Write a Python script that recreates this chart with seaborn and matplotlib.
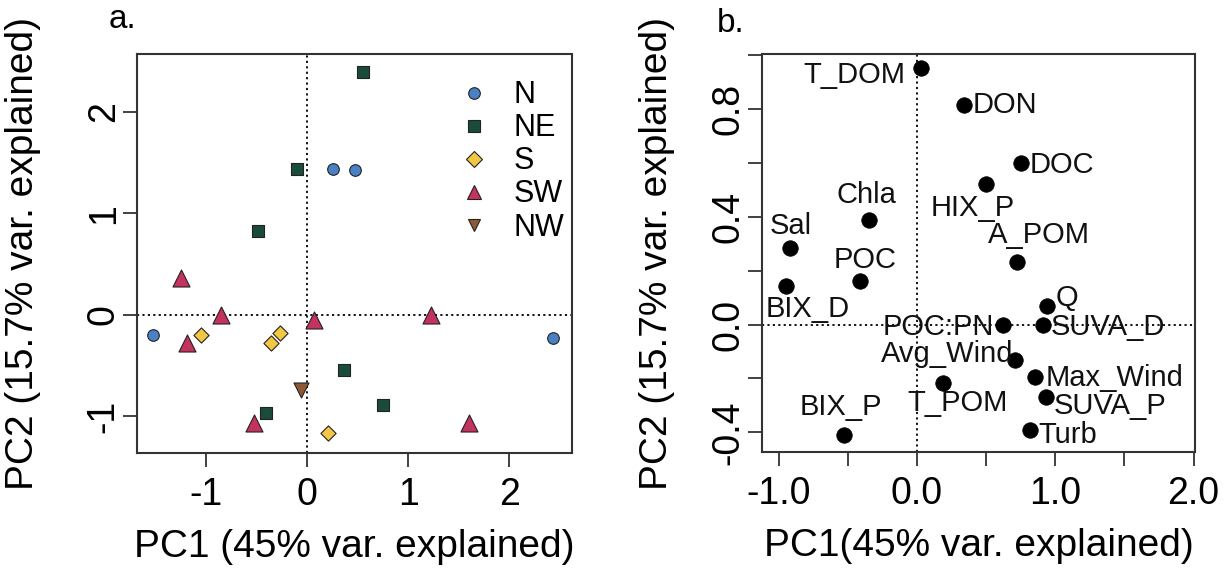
import numpy as np
import pandas as pd
import matplotlib
matplotlib.use("Agg")
import matplotlib.pyplot as plt
from matplotlib.lines import Line2D
import seaborn as sns

# ---------------- data: panel a (site scores) ----------------
groups = ["N", "NE", "S", "SW", "NW"]
N_pc1 = [0.26, 0.47, -1.52, 2.43]
N_pc2 = [1.44, 1.43, -0.20, -0.23]
NE_pc1 = [0.55, -0.10, -0.48, 0.37, 0.75, -0.40]
NE_pc2 = [2.39, 1.44, 0.83, -0.54, -0.89, -0.97]
S_pc1 = [-1.05, -0.27, -0.36, 0.21]
S_pc2 = [-0.20, -0.18, -0.28, -1.16]
SW_pc1 = [-1.25, -0.85, -1.19, 0.07, 1.23, -0.52, 1.60]
SW_pc2 = [0.36, 0.00, -0.28, -0.05, 0.00, -1.06, -1.06]
NW_pc1 = [-0.06]
NW_pc2 = [-0.74]

# ---------------- data: panel b (variable loadings) ----------------
variables = ["T_DOM", "DON", "DOC", "HIX_P", "A_POM", "Chla", "Sal", "POC",
             "BIX_D", "Q", "POC:PN", "SUVA_D", "Avg_Wind", "Max_Wind",
             "T_POM", "SUVA_P", "Turb", "BIX_P"]
load_pc1 = [0.03, 0.34, 0.75, 0.50, 0.72, -0.35, -0.92, -0.41,
            -0.95, 0.94, 0.62, 0.91, 0.71, 0.85, 0.19, 0.93, 0.82, -0.53]
load_pc2 = [0.954, 0.817, 0.60, 0.523, 0.233, 0.39, 0.284, 0.163,
            0.142, 0.07, 0.0, 0.0, -0.13, -0.196, -0.217, -0.269, -0.39, -0.41]

# label placement (offset in pixels, horizontal alignment)
label_style = {
    "T_DOM": (-16, -7, "right"), "DON": (9, 0, "left"), "DOC": (9, -2, "left"),
    "HIX_P": (-13, -24, "center"), "A_POM": (22, 27, "center"),
    "Chla": (-2, 25, "center"), "Sal": (1, 22, "center"), "POC": (5, 21, "center"),
    "BIX_D": (22, -23, "center"), "Q": (9, 8, "left"), "POC:PN": (-9, -2, "right"),
    "SUVA_D": (8, -2, "left"), "Avg_Wind": (-2, 6, "right"),
    "Max_Wind": (11, -1, "left"), "T_POM": (14, -20, "center"),
    "SUVA_P": (8, -9, "left"), "Turb": (8, -5, "left"), "BIX_P": (-3, 28, "center"),
}

sns.set_style("white")
plt.rcParams["font.family"] = ["Liberation Sans", "DejaVu Sans"]
plt.rcParams["axes.unicode_minus"] = False
for k in ("text.color", "axes.labelcolor", "xtick.color", "ytick.color"):
    plt.rcParams[k] = "black"

colors = {"N": "#4a80c4", "NE": "#1b4b3a", "S": "#f2c744", "SW": "#c4325e", "NW": "#8e5a33"}
markers = {"N": "o", "NE": "s", "S": "D", "SW": "^", "NW": "v"}
sizes = {"N": 70, "NE": 64, "S": 60, "SW": 150, "NW": 117}

pc1s = [N_pc1, NE_pc1, S_pc1, SW_pc1, NW_pc1]
pc2s = [N_pc2, NE_pc2, S_pc2, SW_pc2, NW_pc2]
df_a = pd.concat([pd.DataFrame({"PC1": a, "PC2": b, "group": g})
                  for g, a, b in zip(groups, pc1s, pc2s)], ignore_index=True)
df_b = pd.DataFrame({"var": variables, "PC1": load_pc1, "PC2": load_pc2})

W, H = 1223, 579
fig = plt.figure(figsize=(W / 100, H / 100), dpi=100)

def fr(l, r, t, b):
    return [l / W, 1 - b / H, (r - l) / W, (b - t) / H]

ax1 = fig.add_axes(fr(137, 572, 54, 453))
ax2 = fig.add_axes(fr(762, 1195, 54, 452))

TICK_FS = 27
LAB_FS = 28

# ---- panel a ----
ax1.axhline(0, color="black", ls=(0, (1.2, 1.8)), lw=1.3, zorder=1)
ax1.axvline(0, color="black", ls=(0, (1.2, 1.8)), lw=1.3, zorder=1)
for g in groups:
    sub = df_a[df_a["group"] == g]
    sns.scatterplot(data=sub, x="PC1", y="PC2", ax=ax1, marker=markers[g],
                    color=colors[g], s=sizes[g], edgecolor="#222222",
                    linewidth=0.8, zorder=3, legend=False)
ax1.set_xlim(-1.68, 2.62)
ax1.set_ylim(-1.36, 2.57)
ax1.set_xticks([-1, 0, 1, 2])
ax1.set_yticks([-1, 0, 1, 2])
ax1.set_xlabel("PC1 (45% var. explained)", fontsize=LAB_FS, labelpad=12)
ax1.set_ylabel("PC2 (15.7% var. explained)", fontsize=LAB_FS, labelpad=32)

handles = [Line2D([0], [0], marker=markers[g], color="none", markerfacecolor=colors[g],
                  markeredgecolor="#222222", markeredgewidth=0.8,
                  markersize=np.sqrt(sizes[g]) * (0.85 if g in ("SW", "NW") else 1.0))
           for g in groups]
ax1.legend(handles, groups, loc="upper right", bbox_to_anchor=(1.025, 0.98),
           frameon=False, fontsize=22, labelspacing=0.1, handletextpad=0.8,
           handlelength=1.0, borderaxespad=0.2)

# ---- panel b ----
ax2.axhline(0, color="black", ls=(0, (1.2, 1.8)), lw=1.3, zorder=1)
ax2.axvline(0, color="black", ls=(0, (1.2, 1.8)), lw=1.3, zorder=1)
sns.scatterplot(data=df_b, x="PC1", y="PC2", ax=ax2, color="black", s=125,
                edgecolor="black", linewidth=0.5, zorder=3, legend=False)
for v, x, y in zip(variables, load_pc1, load_pc2):
    dx, dy, ha = label_style[v]
    ax2.annotate(v, (x, y), xytext=(dx * 0.72, dy * 0.72), textcoords="offset points",
                 ha=ha, va="center", fontsize=21, color="#111111", zorder=4)
ax2.set_xlim(-1.12, 2.01)
ax2.set_ylim(-0.473, 1.005)
ax2.set_xticks([-1.0, -0.5, 0.0, 0.5, 1.0, 1.5, 2.0])
ax2.set_xticklabels(["-1.0", "", "0.0", "", "1.0", "", "2.0"])
ax2.set_yticks([-0.4, -0.2, 0.0, 0.2, 0.4, 0.6, 0.8, 1.0])
ax2.set_yticklabels(["-0.4", "", "0.0", "", "0.4", "", "0.8", ""])
ax2.set_xlabel("PC1(45% var. explained)", fontsize=LAB_FS, labelpad=12)
ax2.set_ylabel("PC2 (15.7% var. explained)", fontsize=LAB_FS, labelpad=26)

for ax in (ax1, ax2):
    for sp in ax.spines.values():
        sp.set_color("#333333")
        sp.set_linewidth(1.5)
    ax.tick_params(axis="both", which="major", length=10, width=1.3, color="#333333",
                   labelsize=TICK_FS, direction="out", bottom=True, left=True)
    ax.tick_params(axis="x", pad=7)
    ax.tick_params(axis="y", pad=1)
    for lab in ax.get_yticklabels():
        lab.set_rotation(90)
        lab.set_va("center")

fig.text(122 / W, 1 - 19 / H, "a.", fontsize=24, ha="center", va="center")
fig.text(731 / W, 1 - 24 / H, "b.", fontsize=24, ha="center", va="center")

fig.savefig("out.png", dpi=100)
